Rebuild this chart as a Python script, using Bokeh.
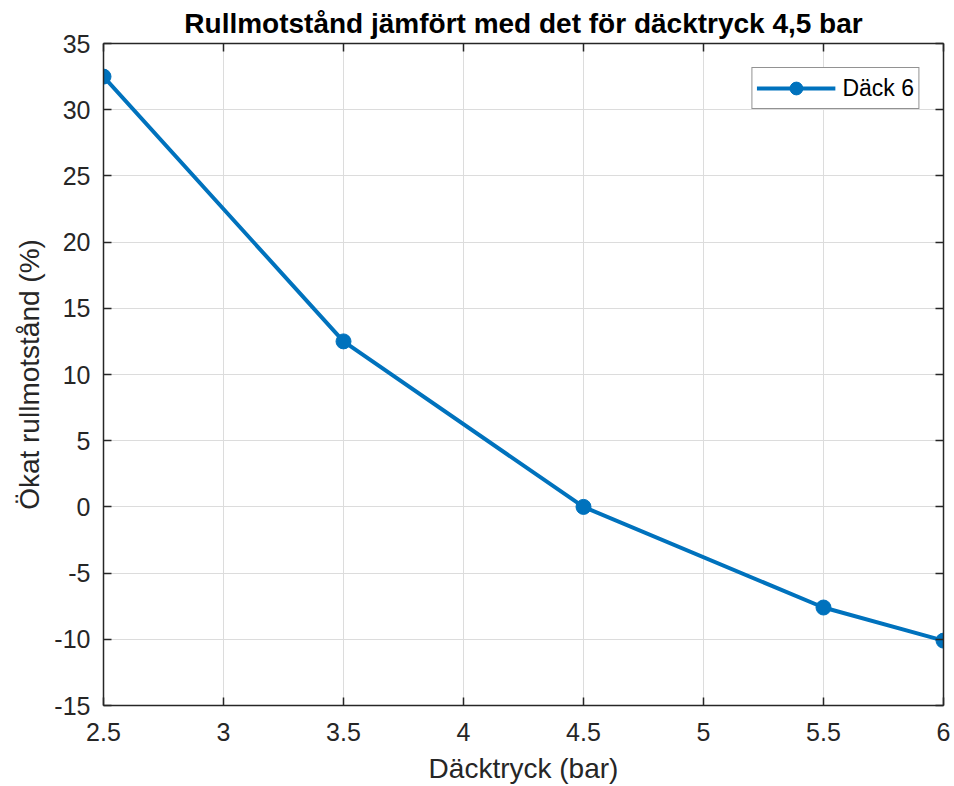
from bokeh.plotting import figure
from bokeh.models import LinearAxis, Range1d, FixedTicker, CustomJSTickFormatter
from bokeh.embed import file_html
from bokeh.resources import INLINE

# Data
pressure = [2.5, 3.5, 4.5, 5.5, 6.0]
increase = [32.5, 12.5, 0.0, -7.6, -10.1]
x_ticks = [2.5, 3, 3.5, 4, 4.5, 5, 5.5, 6]
y_ticks = [-15, -10, -5, 0, 5, 10, 15, 20, 25, 30, 35]
title_text = "Rullmotstånd jämfört med det för däcktryck 4,5 bar"
x_label = "Däcktryck (bar)"
y_label = "Ökat rullmotstånd (%)"
series_name = "Däck 6"

FONT = "Liberation Sans"
AX = "#262626"
BLUE = "#0072BD"

p = figure(width=954, height=786, output_backend="svg", toolbar_location=None,
           x_range=Range1d(2.5, 6), y_range=Range1d(-15, 35),
           min_border_left=103, min_border_right=11, min_border_top=43, min_border_bottom=81)

p.title.text = title_text
p.title.align = "center"
p.title.text_font = FONT
p.title.text_font_size = "28px"
p.title.text_font_style = "bold"
p.title.text_color = "#000000"
p.title.standoff = 10

p.outline_line_color = None
p.background_fill_color = "white"
p.border_fill_color = "white"

plain = CustomJSTickFormatter(code="return String(tick);")

for ax, ticks, lab in ((p.xaxis[0], x_ticks, x_label), (p.yaxis[0], y_ticks, y_label)):
    ax.ticker = FixedTicker(ticks=ticks)
    ax.formatter = plain
    ax.axis_label = lab
    ax.axis_label_text_font = FONT
    ax.axis_label_text_font_size = "28px"
    ax.axis_label_text_font_style = "normal"
    ax.axis_label_text_color = AX
    ax.major_label_text_font = FONT
    ax.major_label_text_font_size = "25px"
    ax.major_label_text_color = AX
    ax.axis_line_color = AX
    ax.axis_line_width = 1.5
    ax.major_tick_line_color = AX
    ax.major_tick_line_width = 1.5
    ax.major_tick_in = 8
    ax.major_tick_out = 0
    ax.minor_tick_line_color = None

p.xaxis[0].major_label_standoff = 17
p.xaxis[0].axis_label_standoff = 9
p.yaxis[0].major_label_standoff = 13
p.yaxis[0].axis_label_standoff = 6

empty = CustomJSTickFormatter(code="return '';")
for loc, ticks in (("above", x_ticks), ("right", y_ticks)):
    a = LinearAxis(ticker=FixedTicker(ticks=ticks), formatter=empty)
    a.axis_line_color = AX
    a.axis_line_width = 1.5
    a.major_tick_line_color = AX
    a.major_tick_line_width = 1.5
    a.major_tick_in = 8
    a.major_tick_out = 0
    a.minor_tick_line_color = None
    a.major_label_standoff = 0
    a.major_label_text_font_size = "1px"
    p.add_layout(a, loc)

p.xgrid.ticker = FixedTicker(ticks=x_ticks)
p.ygrid.ticker = FixedTicker(ticks=y_ticks)
for g in (p.xgrid[0], p.ygrid[0]):
    g.grid_line_color = "#dcdcdc"
    g.grid_line_width = 1

p.line(pressure, increase, line_color=BLUE, line_width=4, legend_label=series_name)
p.scatter(pressure, increase, marker="circle", size=15, fill_color=BLUE, line_color=BLUE,
          legend_label=series_name)

lg = p.legend[0]
lg.location = "top_right"
lg.margin = 24
lg.padding = 4
lg.spacing = 0
lg.glyph_width = 79
lg.glyph_height = 32
lg.label_standoff = 7
lg.label_text_font = FONT
lg.label_text_font_size = "23px"
lg.label_text_color = "#000000"
lg.border_line_color = AX
lg.border_line_width = 1
lg.background_fill_alpha = 1

open("out.html", "w").write(file_html(p, INLINE))
